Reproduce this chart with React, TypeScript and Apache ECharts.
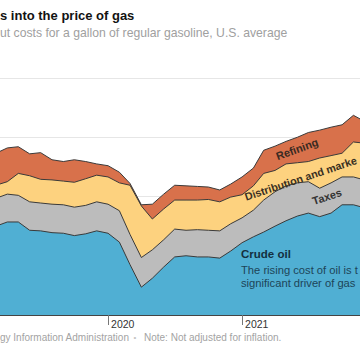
import React, { useEffect, useRef } from "react";
import * as echarts from "echarts";

// Monthly points, first of each month (US average, regular gasoline, $ per gallon)
const months: string[] = [
  "2019-03", "2019-04", "2019-05", "2019-06", "2019-07", "2019-08", "2019-09", "2019-10", "2019-11", "2019-12",
  "2020-01", "2020-02", "2020-03", "2020-04", "2020-05", "2020-06", "2020-07", "2020-08", "2020-09", "2020-10", "2020-11", "2020-12",
  "2021-01", "2021-02", "2021-03", "2021-04", "2021-05", "2021-06", "2021-07", "2021-08", "2021-09", "2021-10", "2021-11", "2021-12",
];
const crudeOil: number[] = [1.50, 1.57, 1.57, 1.43, 1.42, 1.39, 1.38, 1.34, 1.37, 1.42, 1.38, 1.23, 0.85, 0.47, 0.62, 0.81, 0.98, 1.00, 0.98, 0.98, 0.96, 1.08, 1.22, 1.32, 1.40, 1.50, 1.59, 1.67, 1.72, 1.66, 1.72, 1.86, 1.86, 1.81];
const taxes: number[] = [0.47, 0.47, 0.45, 0.48, 0.47, 0.48, 0.48, 0.48, 0.48, 0.49, 0.49, 0.53, 0.51, 0.50, 0.48, 0.46, 0.47, 0.43, 0.46, 0.45, 0.46, 0.46, 0.42, 0.45, 0.54, 0.58, 0.59, 0.56, 0.53, 0.48, 0.51, 0.47, 0.47, 0.47];
const distribution: number[] = [0.22, 0.21, 0.37, 0.44, 0.40, 0.41, 0.40, 0.42, 0.45, 0.45, 0.46, 0.47, 0.83, 0.87, 0.52, 0.52, 0.49, 0.51, 0.50, 0.52, 0.49, 0.45, 0.39, 0.41, 0.45, 0.36, 0.37, 0.34, 0.34, 0.51, 0.46, 0.40, 0.59, 0.62];
const refining: number[] = [0.54, 0.57, 0.45, 0.37, 0.45, 0.34, 0.33, 0.38, 0.29, 0.19, 0.19, 0.18, 0.03, 0.02, 0.25, 0.25, 0.25, 0.24, 0.23, 0.21, 0.20, 0.22, 0.30, 0.30, 0.39, 0.41, 0.38, 0.43, 0.49, 0.47, 0.48, 0.48, 0.45, 0.37];
const yearTicks: string[] = ["2020-01", "2021-01"];

const toTime = (ym: string, day = 1) => {
  const [y, m] = ym.split("-").map(Number);
  return Date.UTC(y, m - 1, day);
};

const SANS = "'Liberation Sans', Arial, sans-serif";

export default function App() {
  const ref = useRef<HTMLDivElement>(null);
  useEffect(() => {
    document.body.style.margin = "0";
    const chart = echarts.init(ref.current!, null, { renderer: "svg" });
    // cumulative tops of each layer (stacked by hand, bottom to top)
    const layers = [crudeOil, taxes, distribution, refining];
    const tops: number[][] = [];
    layers.forEach((vals, k) => {
      tops.push(vals.map((v, i) => +(v + (k > 0 ? tops[k - 1][i] : 0)).toFixed(3)));
    });
    const names = ["Crude oil", "Taxes", "Distribution and marketing", "Refining"];
    const colors = ["#50afd3", "#bcbcbc", "#fdd27f", "#d8714b"];
    const series = [3, 2, 1, 0].map((k, order) => ({
      name: names[k],
      type: "line",
      data: tops[k].map((v, i) => [toTime(months[i]), v]),
      symbol: "none",
      showSymbol: false,
      clip: true,
      z: 2 + order,
      lineStyle: { color: "#3a3a3a", width: 1 },
      areaStyle: { color: colors[k], opacity: 1 },
      emphasis: { disabled: true },
    }));
    const deg = Math.PI / 180;
    const tickVals = yearTicks.map((t) => toTime(t));
    const txt = (x: number, y: number, text: string, style: any, rotation = 0) => ({
      type: "text",
      x,
      y,
      rotation,
      z: 100,
      silent: true,
      style: { text, fontFamily: SANS, align: "left", verticalAlign: "middle", ...style },
    });
    chart.setOption({
      animation: false,
      grid: { left: 0, right: 0, top: 78, bottom: 41 },
      xAxis: {
        type: "value",
        min: toTime("2019-03", 12),
        max: toTime("2021-11", 19),
        splitLine: { show: false },
        axisLine: { show: true, lineStyle: { color: "#444", width: 1 } },
        axisTick: {
          show: true,
          length: 10,
          lineStyle: { color: "#777", width: 1 },
          customValues: tickVals,
        },
        axisLabel: {
          show: true,
          customValues: tickVals,
          formatter: (v: number) => String(new Date(v).getUTCFullYear()),
          align: "left",
          margin: 3,
          padding: [0, 0, 0, 3],
          fontSize: 10.5,
          color: "#333",
          fontFamily: SANS,
        },
      },
      yAxis: {
        type: "value",
        min: 0,
        max: 4,
        interval: 1,
        axisLabel: { show: false },
        axisLine: { show: false },
        axisTick: { show: false },
        splitLine: { show: true, lineStyle: { color: "#e6e6e6", width: 1 } },
      },
      series,
      graphic: [
        txt(0, 15, "s into the price of gas", { fontSize: 13, fontWeight: "bold", fill: "#121212" }),
        txt(0, 33, "ut costs for a gallon of regular gasoline, U.S. average", { fontSize: 12.2, fill: "#a0a0a0" }),
        txt(297, 149, "Refining", { fontSize: 11, fontWeight: "bold", fill: "#3a2a22", align: "center" }, 20 * deg),
        txt(245, 197, "Distribution and marke", { fontSize: 10.8, fontWeight: "bold", fill: "#3a3022" }, 18.5 * deg),
        txt(327, 196.5, "Taxes", { fontSize: 11, fontWeight: "bold", fill: "#333", align: "center" }, 18 * deg),
        txt(241, 253.5, "Crude oil", { fontSize: 11.5, fontWeight: "bold", fill: "#14303f" }),
        txt(241, 269.5, "The rising cost of oil is t", { fontSize: 11.2, fill: "#1d4558" }),
        txt(241, 282.5, "significant driver of gas", { fontSize: 11.2, fill: "#1d4558" }),
        txt(0, 337, "gy Information Administration", { fontSize: 10, fill: "#a3a3a3" }),
        txt(135, 337, "•", { fontSize: 8, fill: "#c4c4c4", align: "center" }),
        txt(144, 337, "Note: Not adjusted for inflation.", { fontSize: 10, fill: "#a3a3a3" }),
      ],
    });
    return () => chart.dispose();
  }, []);
  return <div ref={ref} style={{ width: 360, height: 356 }} />;
}
